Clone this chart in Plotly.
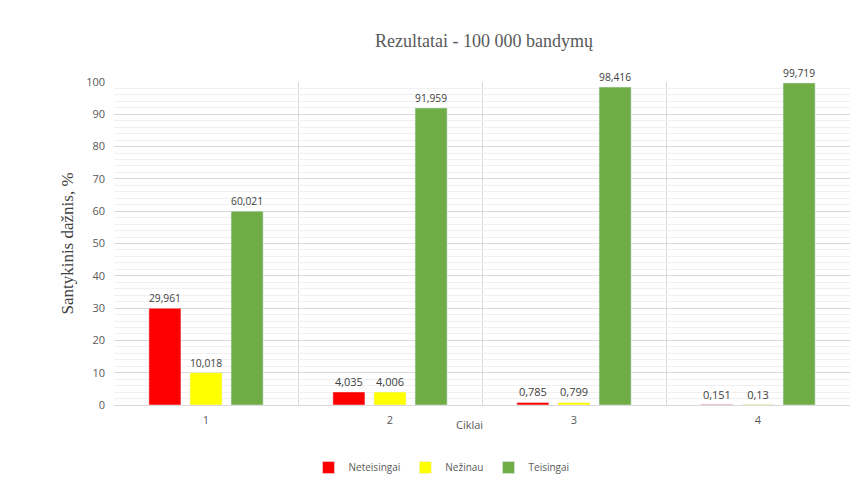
import plotly.graph_objects as go

# duomenys
ciklai = [1, 2, 3, 4]
neteisingai = [29.961, 4.035, 0.785, 0.151]
nezinau = [10.018, 4.006, 0.799, 0.13]
teisingai = [60.021, 91.959, 98.416, 99.719]
y_ticks = [0, 10, 20, 30, 40, 50, 60, 70, 80, 90, 100]

def fmt(v):
    return ("%g" % v).replace(".", ",")

fig = go.Figure()
for name, vals, col in [("Neteisingai", neteisingai, "#FF0000"),
                        ("Nežinau", nezinau, "#FFFF00"),
                        ("Teisingai", teisingai, "#70AD47")]:
    fig.add_trace(go.Bar(x=ciklai, y=vals, name=name, marker_color=col,
                         text=[fmt(v) for v in vals], textposition="outside",
                         textfont=dict(size=11, color="#404040", family="Open Sans"),
                         cliponaxis=False))

# puslapis turi 8px body parasta, todel figura siek tiek mazesne
fig.update_layout(
    width=853, height=474,
    paper_bgcolor="white", plot_bgcolor="white",
    margin=dict(l=106, r=11, t=74, b=77, autoexpand=False),
    barmode="group", bargap=0.33, bargroupgap=0.22,
    title=dict(text="Rezultatai - 100 000 bandymų", x=0.558, xanchor="center",
               y=0.93, yanchor="middle",
               font=dict(family="Liberation Serif", size=18, color="#595959")),
    font=dict(family="Open Sans", size=10, color="#595959"),
    showlegend=True,
    legend=dict(orientation="h", x=0.445, xanchor="center", y=0.0, yanchor="bottom",
                yref="container", font=dict(size=10, color="#595959"), itemwidth=30),
)
fig.update_xaxes(range=[0.5, 4.5], tickvals=ciklai, showgrid=False, automargin=False,
                 showline=True, linecolor="#D9D9D9", ticks="", ticklabelstandoff=5,
                 tickfont=dict(size=11, color="#595959"),
                 minor=dict(tickvals=[0.5, 1.5, 2.5, 3.5, 4.5], showgrid=True,
                            gridcolor="#D9D9D9", gridwidth=1))
fig.update_yaxes(range=[0, 100], tickvals=y_ticks, showgrid=True, gridcolor="#D9D9D9",
                 zeroline=False, ticks="", ticklabelstandoff=8, automargin=False,
                 tickfont=dict(size=11, color="#595959"),
                 minor=dict(dtick=2, showgrid=True, gridcolor="#F0F0F0", gridwidth=1),
                 title=dict(text="Santykinis dažnis, %", standoff=8,
                            font=dict(family="Liberation Serif", size=17, color="#404040")))
fig.add_annotation(text="Ciklai", x=0.483, xref="paper", y=-0.06, yref="paper",
                   yanchor="middle", showarrow=False, font=dict(size=11, color="#595959"))

fig.write_html("out.html")
